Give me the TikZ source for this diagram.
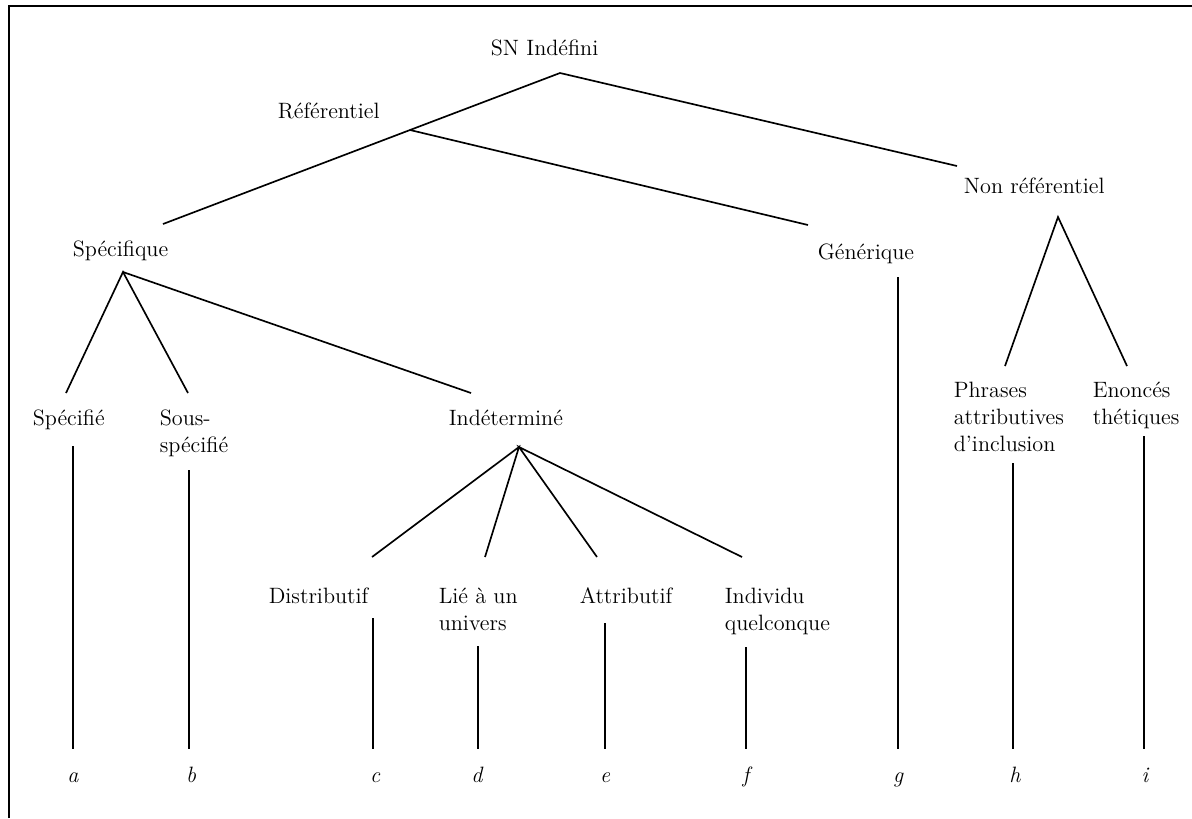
\documentclass[tikz,border=0pt]{standalone}
\usepackage{tikz}
\begin{document}
\begin{tikzpicture}
[
x=0.019cm, y=-0.019cm,
line width=0.9pt,
every node/.style={inner sep=0pt, anchor=base west, align=left, font=\fontsize{12}{14.5}\selectfont},
leaf/.style={anchor=base, font=\fontsize{12}{14.5}\selectfont\itshape}
]
\useasboundingbox (0,0) rectangle (1192,818);
\draw (9,818) -- (9,6) -- (1192,6);

\node (root) at (490,55) {SN Indéfini};
\node (reflab) at (277,118) {Référentiel};
\node (nonref) at (963,193) {Non référentiel};
\node (spec) at (72,256) {Spécifique};
\node (gen) at (817,259) {Générique};
\node (spcf) at (32,425) {Spécifié};
\node (sous) at (159,452) {Sous-\\spécifié};
\node (indet) at (448,425) {Indéterminé};
\node (distr) at (268,603) {Distributif};
\node (lie) at (438,630) {Lié à un\\univers};
\node (attr) at (579,603) {Attributif};
\node (indiv) at (724,630) {Individu\\quelconque};
\node (phr) at (953,451) {Phrases\\attributives\\d'inclusion};
\node (enon) at (1092,424) {Enoncés\\thétiques};

\coordinate (root-b) at (560,73);
\coordinate (ref) at (410,130);
\coordinate (nonref-t) at (957,166);
\coordinate (nonref-b) at (1058,217);
\coordinate (spec-t) at (163,224);
\coordinate (spec-b) at (123,272);
\coordinate (gen-t) at (808,225);
\coordinate (spcf-t) at (66,393);
\coordinate (sous-t) at (188,393);
\coordinate (indet-t) at (471,393);
\coordinate (indet-b) at (519,447);
\coordinate (distr-t) at (372,557);
\coordinate (lie-t) at (485,557);
\coordinate (attr-t) at (597,557);
\coordinate (indiv-t) at (742,557);
\coordinate (phr-t) at (1005,366);
\coordinate (enon-t) at (1127,366);
\coordinate (bot) at (0,749);

\draw (ref) -- (root-b) -- (nonref-t);
\draw (spec-t) -- (ref) -- (gen-t);
\draw (spcf-t) -- (spec-b) -- (sous-t);
\draw (spec-b) -- (indet-t);
\draw (distr-t) -- (indet-b) -- (lie-t);
\draw (attr-t) -- (indet-b) -- (indiv-t);
\draw (phr-t) -- (nonref-b) -- (enon-t);

\node[leaf] (a) at (73,782) {a};
\node[leaf] (b) at (191,782) {b};
\node[leaf] (c) at (375,782) {c};
\node[leaf] (d) at (477,782) {d};
\node[leaf] (e) at (605,782) {e};
\node[leaf] (f) at (746,782) {f};
\node[leaf] (g) at (898,782) {g};
\node[leaf] (h) at (1015,782) {h};
\node[leaf] (i) at (1145,782) {i};

\coordinate (a-t) at (73,446);
\coordinate (b-t) at (189,470);
\coordinate (c-t) at (373,618);
\coordinate (d-t) at (478,646);
\coordinate (e-t) at (605,623);
\coordinate (f-t) at (746,647);
\coordinate (g-t) at (898,277);
\coordinate (h-t) at (1013,463);
\coordinate (i-t) at (1144,436);
\draw (a-t) -- (a-t |- bot);
\draw (b-t) -- (b-t |- bot);
\draw (c-t) -- (c-t |- bot);
\draw (d-t) -- (d-t |- bot);
\draw (e-t) -- (e-t |- bot);
\draw (f-t) -- (f-t |- bot);
\draw (g-t) -- (g-t |- bot);
\draw (h-t) -- (h-t |- bot);
\draw (i-t) -- (i-t |- bot);
\end{tikzpicture}
\end{document}
